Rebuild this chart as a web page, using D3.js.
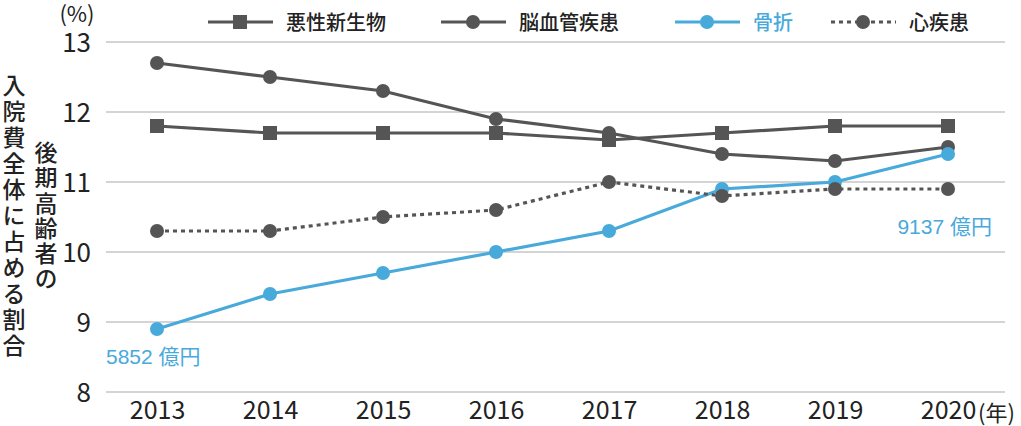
<!DOCTYPE html>
<html>
<head>
<meta charset="utf-8">
<script src="https://cdn.jsdelivr.net/npm/d3@7"></script>
<style>
  body { margin: 0; background: #fff; }
  text { font-family: "Noto Sans CJK JP", "Noto Sans", sans-serif; }
</style>
</head>
<body>
<svg width="1021" height="426"></svg>
<script>
let years = [2013, 2014, 2015, 2016, 2017, 2018, 2019, 2020];
let cancer = [11.8, 11.7, 11.7, 11.7, 11.6, 11.7, 11.8, 11.8];
let stroke = [12.7, 12.5, 12.3, 11.9, 11.7, 11.4, 11.3, 11.5];
let fracture = [8.9, 9.4, 9.7, 10.0, 10.3, 10.9, 11.0, 11.4];
let heart = [10.3, 10.3, 10.5, 10.6, 11.0, 10.8, 10.9, 10.9];
let yTicks = [8, 9, 10, 11, 12, 13];

let gray = '#555', blue = '#48a9db';
let numFont = '"Liberation Sans", Arial, sans-serif';

let series = [
    {name: '悪性新生物', values: cancer, color: gray, marker: 'square', dash: null, legendX: 208},
    {name: '脳血管疾患', values: stroke, color: gray, marker: 'circle', dash: null, legendX: 441},
    {name: '骨折', values: fracture, color: blue, marker: 'circle', dash: null, legendX: 675},
    {name: '心疾患', values: heart, color: gray, marker: 'circle', dash: '4,4', legendX: 831}
];

var svg = d3.select('svg');

let x = d3.scalePoint().domain(years).range([157, 948]);
let y = d3.scaleLinear().domain([8, 13]).range([392, 42]);

// grid
svg.append('g')
    .selectAll('line')
    .data(yTicks)
    .enter()
    .append('line')
    .attr('x1', 106)
    .attr('x2', 1005)
    .attr('y1', d => y(d))
    .attr('y2', d => y(d))
    .attr('stroke', '#aaa')
    .attr('stroke-width', 1.2);

// y axis labels
let yAxis = svg.append('g')
    .attr('transform', 'translate(91,1)')
    .call(d3.axisLeft(y).tickValues(yTicks).tickSize(0).tickPadding(0).tickFormat(d3.format('d')));
yAxis.select('.domain').remove();
yAxis.selectAll('text')
    .attr('font-size', 26)
    .attr('fill', '#222')
    .attr('font-family', numFont);

// x axis labels
let xAxis = svg.append('g')
    .attr('transform', 'translate(0,401)')
    .call(d3.axisBottom(x).tickSize(0).tickPadding(0).tickFormat(d => d));
xAxis.select('.domain').remove();
xAxis.selectAll('text')
    .attr('font-size', 25)
    .attr('fill', '#222')
    .attr('font-family', numFont);

svg.append('text')
    .attr('x', 978)
    .attr('y', 421)
    .attr('font-size', 22)
    .attr('fill', '#222')
    .text('(年)');

svg.append('text')
    .attr('x', 77)
    .attr('y', 22)
    .attr('text-anchor', 'middle')
    .attr('font-size', 22)
    .attr('fill', '#222')
    .attr('font-family', numFont)
    .text('(%)');

// vertical y title
function verticalText(str, cx, top, spacing) {
    svg.append('text')
        .attr('x', cx)
        .attr('y', top)
        .style('writing-mode', 'vertical-rl')
        .attr('font-size', 23)
        .attr('font-weight', 500)
        .attr('letter-spacing', spacing)
        .attr('fill', '#222')
        .text(str);
}
verticalText('入院費全体に占める割合', 14, 74, 3);
verticalText('後期高齢者の', 46, 141, 2.2);

// lines
let line = d3.line()
    .x((d, i) => x(years[i]))
    .y(d => y(d));

series.forEach(s => {
    svg.append('path')
        .datum(s.values)
        .attr('d', line)
        .attr('fill', 'none')
        .attr('stroke', s.color)
        .attr('stroke-width', 3.2)
        .attr('stroke-dasharray', s.dash);
});

function drawMarker(g, s, cx, cy) {
    if (s.marker == 'square') {
        g.append('rect')
            .attr('x', cx - 7)
            .attr('y', cy - 7)
            .attr('width', 14)
            .attr('height', 14)
            .attr('fill', s.color);
    } else {
        g.append('circle')
            .attr('cx', cx)
            .attr('cy', cy)
            .attr('r', 7)
            .attr('fill', s.color);
    }
}

series.forEach(s => {
    let g = svg.append('g');
    s.values.forEach((v, i) => drawMarker(g, s, x(years[i]), y(v)));
});

// legend
series.forEach(s => {
    let g = svg.append('g');
    g.append('line')
        .attr('x1', s.legendX)
        .attr('x2', s.legendX + 65)
        .attr('y1', 22)
        .attr('y2', 22)
        .attr('stroke', s.color)
        .attr('stroke-width', 3.2)
        .attr('stroke-dasharray', s.dash);
    drawMarker(g, s, s.legendX + 32, 22);
    g.append('text')
        .attr('x', s.legendX + 78)
        .attr('y', 30)
        .attr('font-size', 20)
        .attr('font-weight', 500)
        .attr('fill', s.color == blue ? blue : '#222')
        .text(s.name);
});

// annotations
function note(txt, xPos, yPos, anchor) {
    let t = svg.append('text')
        .attr('x', xPos)
        .attr('y', yPos)
        .attr('text-anchor', anchor)
        .attr('font-size', 21)
        .attr('fill', blue);
    let parts = txt.split(' ');
    t.append('tspan').attr('font-family', numFont).text(parts[0] + ' ');
    t.append('tspan').text(parts[1]);
}
note('5852 億円', 106, 364, 'start');
note('9137 億円', 992, 234, 'end');
</script>
</body>
</html>
